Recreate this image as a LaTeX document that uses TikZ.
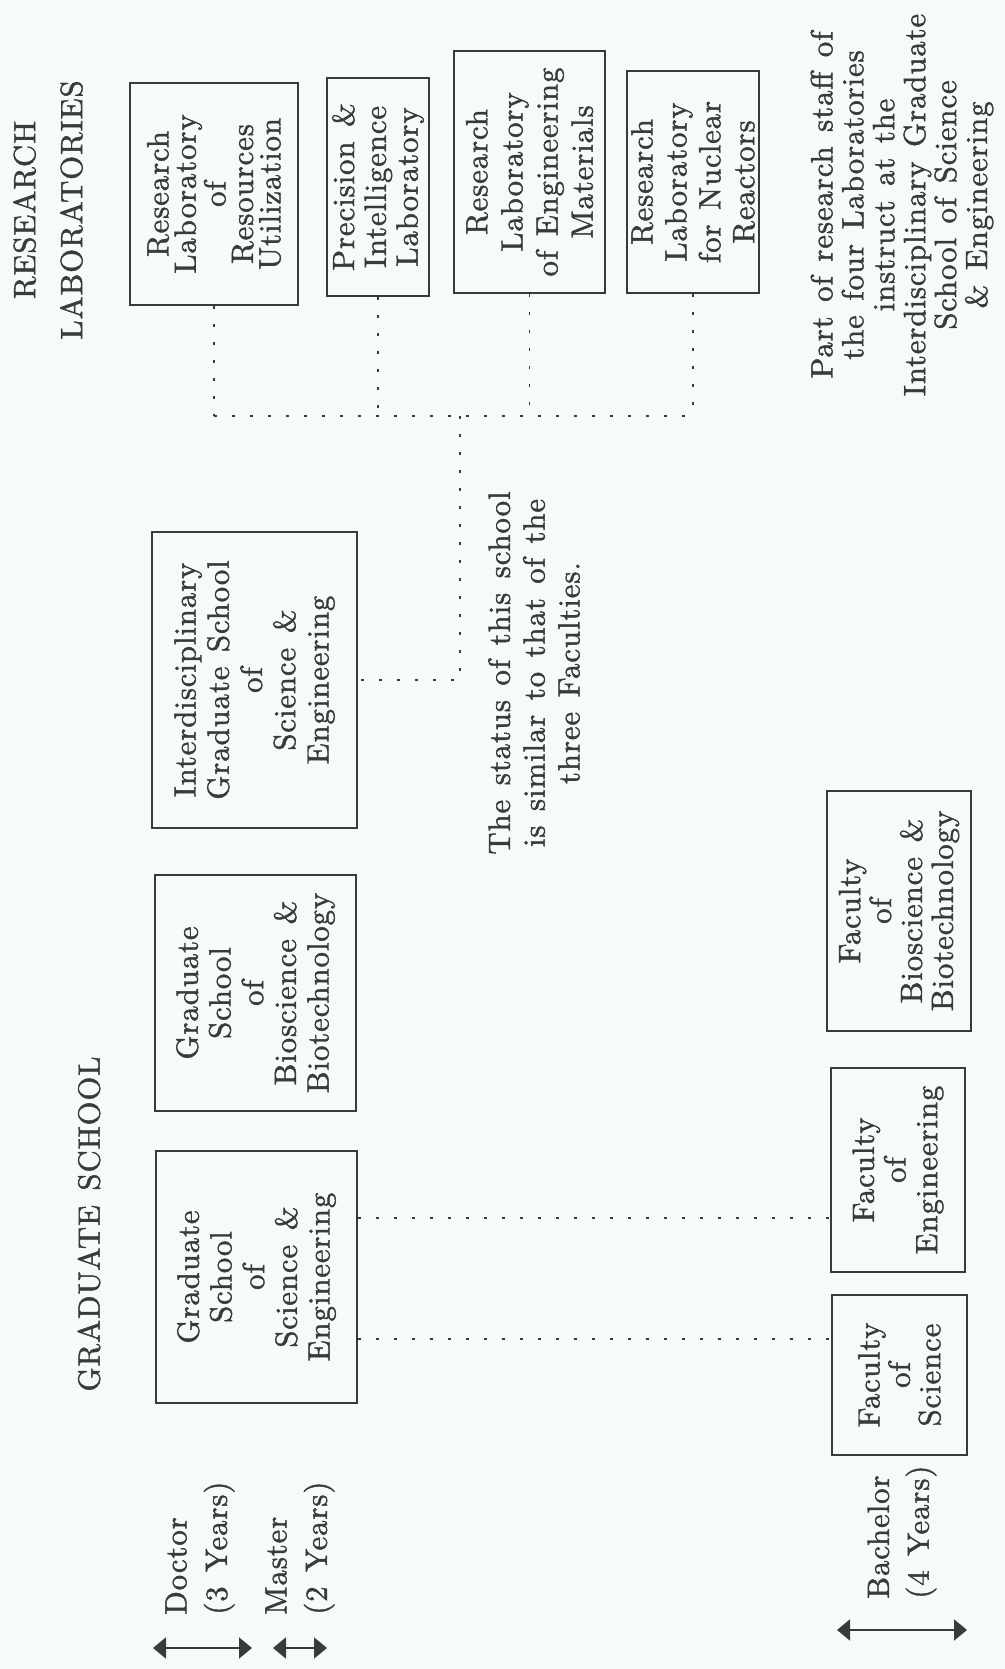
\documentclass[tikz,border=0pt]{standalone}
\usepackage{fontspec}
\setmainfont{lmroman10-regular}[Extension=.otf, FakeBold=1.4, LetterSpace=3, WordSpace=1.3]
\usetikzlibrary{arrows.meta, positioning, calc}
\definecolor{ink}{RGB}{58,58,58}
\definecolor{paper}{RGB}{246,251,250}

\begin{document}
\begin{tikzpicture}[
    x=0.2mm, y=0.2mm,
    >={Triangle[length=2.6mm, width=4.2mm]},
    every node/.style={text=ink, rotate=90},
    unitbox/.style={draw=ink, line width=1pt, align=center, inner sep=0pt,
                    font=\fontsize{17.5pt}{#1}\selectfont},
    unitbox/.default=18.6pt,
    lbl/.style={align=center, inner sep=0pt, font=\fontsize{17.5pt}{#1}\selectfont},
    lbl/.default=17.6pt,
    link/.style={ink, line width=1pt, dash pattern=on 0.6mm off 3mm},
    span/.style={<->, ink, line width=1pt},
]
% page (portrait sheet, the chart itself is turned a quarter)
\fill[paper] (0,0) rectangle (1005,1669);
\useasboundingbox (0,0) rectangle (1005,1669);

% headings
\node[lbl=26.7pt] (reshead) at (48,1459) {RESEARCH\\LABORATORIES};
\node[lbl] (gradhead) at (89,445) {GRADUATE SCHOOL};

% the four laboratories
\node[unitbox=15.6pt, minimum width=44.4mm, minimum height=33.6mm] (lab1) at (214,1475)
     {Research\\Laboratory\\of\\Resources\\Utilization};
\node[unitbox=18.1pt, minimum width=43.6mm, minimum height=20.4mm] (lab2) at (378,1482)
     {Precision \&\\Intelligence\\Laboratory};
\node[unitbox=20pt, minimum width=48.4mm, minimum height=30.2mm] (lab3) at (529.5,1497)
     {Research\\Laboratory\\of Engineering\\Materials};
\node[unitbox=19.3pt, minimum width=44.4mm, minimum height=26.4mm] (lab4) at (693,1487)
     {Research\\Laboratory\\for Nuclear\\Reactors};

% graduate schools
\node[unitbox=18.9pt, minimum width=59.2mm, minimum height=41mm] (isse) at (254.5,989)
     {Interdisciplinary\\Graduate School\\of\\Science \&\\Engineering};
\node[unitbox, minimum width=47.2mm, minimum height=40.2mm] (gsbb) at (255.5,676)
     {Graduate\\School\\of\\Bioscience \&\\Biotechnology};
\node[unitbox, minimum width=50.4mm, minimum height=40.2mm] (gsse) at (256.5,392)
     {Graduate\\School\\of\\Science \&\\Engineering};

% faculties
\node[unitbox=17.6pt, minimum width=48mm, minimum height=28.8mm] (fbb) at (899,758)
     {Faculty\\of\\Bioscience \&\\Biotechnology};
\node[unitbox=18pt, minimum width=40.8mm, minimum height=26.8mm] (feng) at (898,499)
     {Faculty\\of\\Engineering};
\node[unitbox=17.3pt, minimum width=32mm, minimum height=27mm] (fsci) at (899.5,294)
     {Faculty\\of\\Science};

% notes
\node[lbl] (staffnote) at (902,1464)
     {Part of research staff of\\the four Laboratories\\instruct at the\\
      Interdisciplinary Graduate\\School of Science\\\& Engineering};
\node[lbl=19.8pt] (status) at (534,996)
     {The status of this school\\is similar to that of the\\three Faculties.};

% course lengths
\node[lbl=23pt, anchor=west, align=left] (doctor) at (200,54) {Doctor\\(3 Years)};
\node[lbl=23pt, anchor=west, align=left] (master) at (300,54) {Master\\(2 Years)};
\node[lbl=22.7pt, anchor=west, align=left] (bachelor) at (902,70) {Bachelor\\(4 Years)};

\coordinate (docL) at (153,21);  \coordinate (docR) at (252,21);
\coordinate (masL) at (273,21);  \coordinate (masR) at (327,21);
\coordinate (bacL) at (837,39);  \coordinate (bacR) at (967,39);
\draw[span] (docL) -- (docR);
\draw[span] (masL) -- (masR);
\draw[span] (bacL) -- (bacR);

% dotted links: laboratories -> interdisciplinary school
\coordinate (bus) at (460,1253);
\foreach \lab in {lab1,lab2,lab3,lab4}
  \draw[link] (\lab.west) -- (\lab.west |- bus);
\draw[link] (lab1.west |- bus) -- (lab4.west |- bus);
\draw[link] (bus) |- (isse.south);

% dotted links: graduate school -> faculties
\coordinate (toeng) at ([yshift=11.8mm]gsse.south);
\coordinate (tosci) at ([yshift=-12.4mm]gsse.south);
\draw[link] (toeng) -- (toeng -| feng.north);
\draw[link] (tosci) -- (tosci -| fsci.north);
\end{tikzpicture}
\end{document}
